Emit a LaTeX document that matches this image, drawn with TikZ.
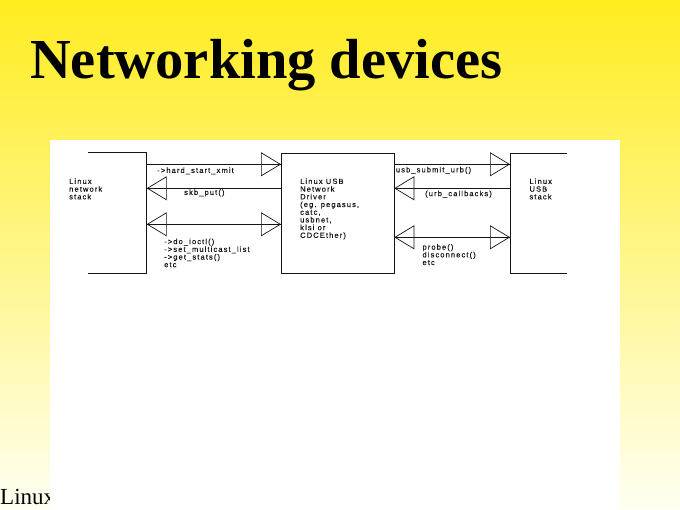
\documentclass[tikz,border=0pt]{standalone}
\usepackage{fontspec}
\setmainfont{Liberation Serif}
\newfontfamily\diagfont[LetterSpace=15,FakeBold=0.3]{Liberation Sans}
\usetikzlibrary{arrows.meta}
\definecolor{bgtop}{RGB}{255,236,32}
\definecolor{bgbot}{RGB}{255,255,242}
\definecolor{ink}{RGB}{20,20,20}
\tikzset{
  wire/.style={draw=ink, line width=0.7pt},
  tofwd/.style={wire, postaction={draw=ink, line width=0.7pt, -{Triangle[open,length=20pt,width=24pt]}}},
  toback/.style={wire, postaction={draw=ink, line width=0.7pt, {Triangle[open,length=20pt,width=24pt]}-}},
  toboth/.style={wire, postaction={draw=ink, line width=0.7pt, {Triangle[open,length=20pt,width=24pt]}-{Triangle[open,length=20pt,width=24pt]}}},
  blk/.style={inner sep=0pt, outer sep=0pt, rectangle},
  lbl/.style={font=\diagfont\fontsize{7.5}{7.7}\selectfont, inner sep=0pt, align=left, anchor=north west, text=ink},
}
\begin{document}
\begin{tikzpicture}[x=1pt,y=-1pt]
\useasboundingbox (0,0) rectangle (680,510);
\shade[top color=bgtop, bottom color=bgbot] (0,0) rectangle (680,510);
% title
\node[anchor=base west, inner sep=0pt, font=\bfseries\fontsize{56.5}{60}\selectfont] (title) at (30,79) {Networking devices};
% footer (covered by the panel)
\node[anchor=base west, inner sep=0pt, font=\fontsize{23}{26}\selectfont] (footer) at (0,504) {Linux};
% white panel
\fill[white] (50,140) rectangle (620,510);
% boxes
\node[blk, minimum width=58.4pt, minimum height=121pt] (L) at (117.5,212.8) {};
\node[blk, draw=ink, line width=0.7pt, minimum width=113.3pt, minimum height=120pt] (M) at (337.65,213.3) {};
\node[blk, minimum width=57.3pt, minimum height=120pt] (R) at (538.65,213.3) {};
\draw[wire] (L.north west) -- (L.north east) -- (L.south east) -- (L.south west);
\draw[wire] (R.north east) -- (R.north west) -- (R.south west) -- (R.south east);
% levels
\coordinate (y1) at (0,164.3);
\coordinate (y2) at (0,188.3);
\coordinate (y3) at (0,224.3);
\coordinate (y4) at (0,237.3);
% connectors
\draw[tofwd]  (L.east |- y1) -- (M.west |- y1);
\draw[toback] (L.east |- y2) -- (M.west |- y2);
\draw[toboth] (L.east |- y3) -- (M.west |- y3);
\draw[tofwd]  (M.east |- y1) -- (R.west |- y1);
\draw[toback] (M.east |- y2) -- (R.west |- y2);
\draw[toboth] (M.east |- y4) -- (R.west |- y4);
% labels
\node[lbl] (tL) at (69,178.3) {Linux\\network\\stack};
\node[lbl] (tM) at (300,178.3) {Linux USB\\Network\\Driver\\(eg. pegasus,\\catc,\\usbnet,\\klsi or\\CDCEther)};
\node[lbl] (tR) at (529.3,178.3) {Linux\\USB\\stack};
\node[lbl] (l1) at (157,167.3) {->hard\_start\_xmit};
\node[lbl] (l2) at (184,189.3) {skb\_put()};
\node[lbl] (l3) at (164,238.5) {->do\_ioctl()\\->set\_multicast\_list\\->get\_stats()\\etc};
\node[lbl] (r1) at (395.7,166.7) {usb\_submit\_urb()};
\node[lbl] (r2) at (425,190.5) {(urb\_callbacks)};
\node[lbl] (r3) at (422.3,244) {probe()\\disconnect()\\etc};
\end{tikzpicture}
\end{document}
